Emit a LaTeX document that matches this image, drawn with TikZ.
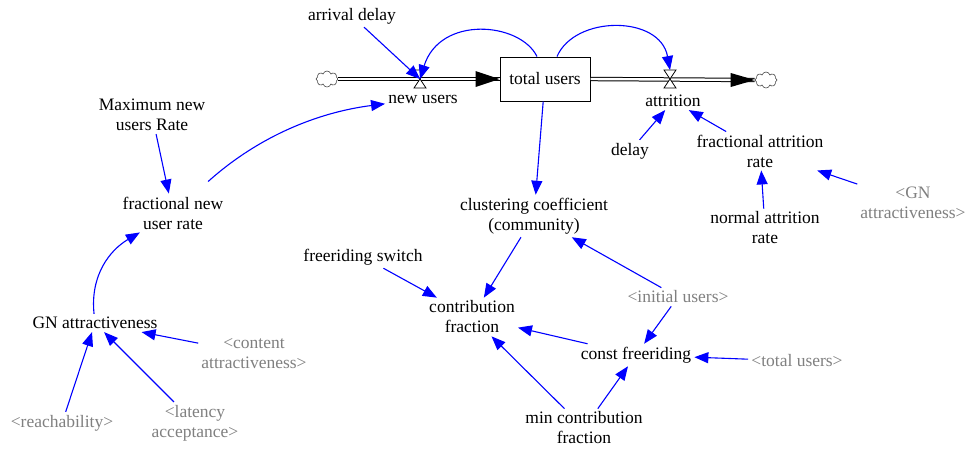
\documentclass[tikz,border=0pt]{standalone}
\usepackage{fontspec}
\setmainfont{Liberation Serif}
\usetikzlibrary{arrows.meta,shapes.symbols,calc}
\begin{document}
\begin{tikzpicture}[x=1pt,y=-1pt,
  every node/.style={font=\fontsize{17.5}{20}\selectfont, align=center, inner sep=3pt},
  shadowvar/.style={text=gray},
  arr/.style={draw=blue, line width=1.1pt, -{Triangle[length=14pt,width=11pt]}},
  pipe/.style={draw=black, double=white, double distance=2.4pt, line width=1pt},
  cloudy/.style={cloud, draw=black!70, cloud puffs=8, minimum width=22pt, minimum height=16pt, inner sep=0pt, line width=0.6pt},
  valve/.style={draw=black, fill=white, line width=0.8pt},
  stockbox/.style={draw=black, line width=1pt, minimum width=90pt, minimum height=44pt}
]
\useasboundingbox (0,0) rectangle (966,448);

% stock, clouds, flows
\node[stockbox] (stock) at (545,79) {total users};
\node[cloudy] (cl1) at (327,79) {};
\node[cloudy] (cl2) at (766,80) {};
\coordinate (v1) at (420,79);
\coordinate (v2) at (670,79);

\draw[pipe] (cl1.east) -- (stock.west);
\draw[pipe] (stock.east) -- (cl2.west);
\fill[black] (stock.west) -- ++(-24,-8) -- ++(0,16) -- cycle;
\fill[black] (cl2.west) -- ++(-24,-7) -- ++(0,14) -- cycle;
\draw[valve] ($(v1)+(-6,-9)$) -- ($(v1)+(6,-9)$) -- ($(v1)+(-6,9)$) -- ($(v1)+(6,9)$) -- cycle;
\draw[valve] ($(v2)+(-6,-9)$) -- ($(v2)+(6,-9)$) -- ($(v2)+(-6,9)$) -- ($(v2)+(6,9)$) -- cycle;

% variables
\node (arrival) at (352,16) {arrival delay};
\node (newusers) at (423,99) {new users};
\node (attrition) at (673,101) {attrition};
\node (maxrate) at (152,115) {Maximum new\\users Rate};
\node (fnur) at (173,213) {fractional new\\user rate};
\node (gna) at (95,323) {GN attractiveness};
\node[shadowvar] (content) at (254,354) {<content\\attractiveness>};
\node[shadowvar] (reach) at (62,423) {<reachability>};
\node[shadowvar] (latency) at (195,423) {<latency\\acceptance>};
\node (clust) at (534,216) {clustering coefficient\\(community)};
\node (frs) at (363,257) {freeriding switch};
\node (cf) at (472,317) {contribution\\fraction};
\node[shadowvar] (init) at (678,297) {<initial users>};
\node (const) at (636,355) {const freeriding};
\node (minc) at (584,428) {min contribution\\fraction};
\node[shadowvar] (totu) at (797,361) {<total users>};
\node (delay) at (630,151) {delay};
\node (far) at (760,151) {fractional attrition\\rate};
\node (nar) at (765,228) {normal attrition\\rate};
\node[shadowvar] (gna2) at (913,203) {<GN\\attractiveness>};

% curved links at the top
\draw[arr] ($(stock.north)+(-8,0)$) .. controls (520,22) and (440,15) .. (v1);
\coordinate (v2top) at ($(v2)+(0,-9)$);
\draw[arr] ($(stock.north)+(12,0)$) .. controls (575,15) and (660,15) .. (v2top);
\draw[arr] (arrival) -- (v1);

% left part
\draw[arr] (maxrate) -- (fnur);
\draw[arr, shorten <=18pt] (fnur) .. controls (260,135) and (320,112) .. (newusers);
\draw[arr] (gna) .. controls (90,275) and (110,250) .. (fnur);
\draw[arr] (content) -- (gna);
\draw[arr] (reach) -- (gna);
\draw[arr] (latency) -- (gna);

% middle
\draw[arr] (stock) -- (clust);
\draw[arr] (clust) -- (cf);
\draw[arr] (frs) -- (cf);
\draw[arr] (init) -- (clust);
\draw[arr] (init) -- (const);
\draw[arr] (const) -- (cf);
\draw[arr] (minc) -- (cf);
\draw[arr] (minc) -- (const);
\draw[arr] (totu) -- (const);

% right
\draw[arr] (delay) -- (attrition);
\draw[arr] (far) -- (attrition);
\draw[arr] (nar) -- (far);
\draw[arr] (gna2) -- (far);
\end{tikzpicture}
\end{document}
